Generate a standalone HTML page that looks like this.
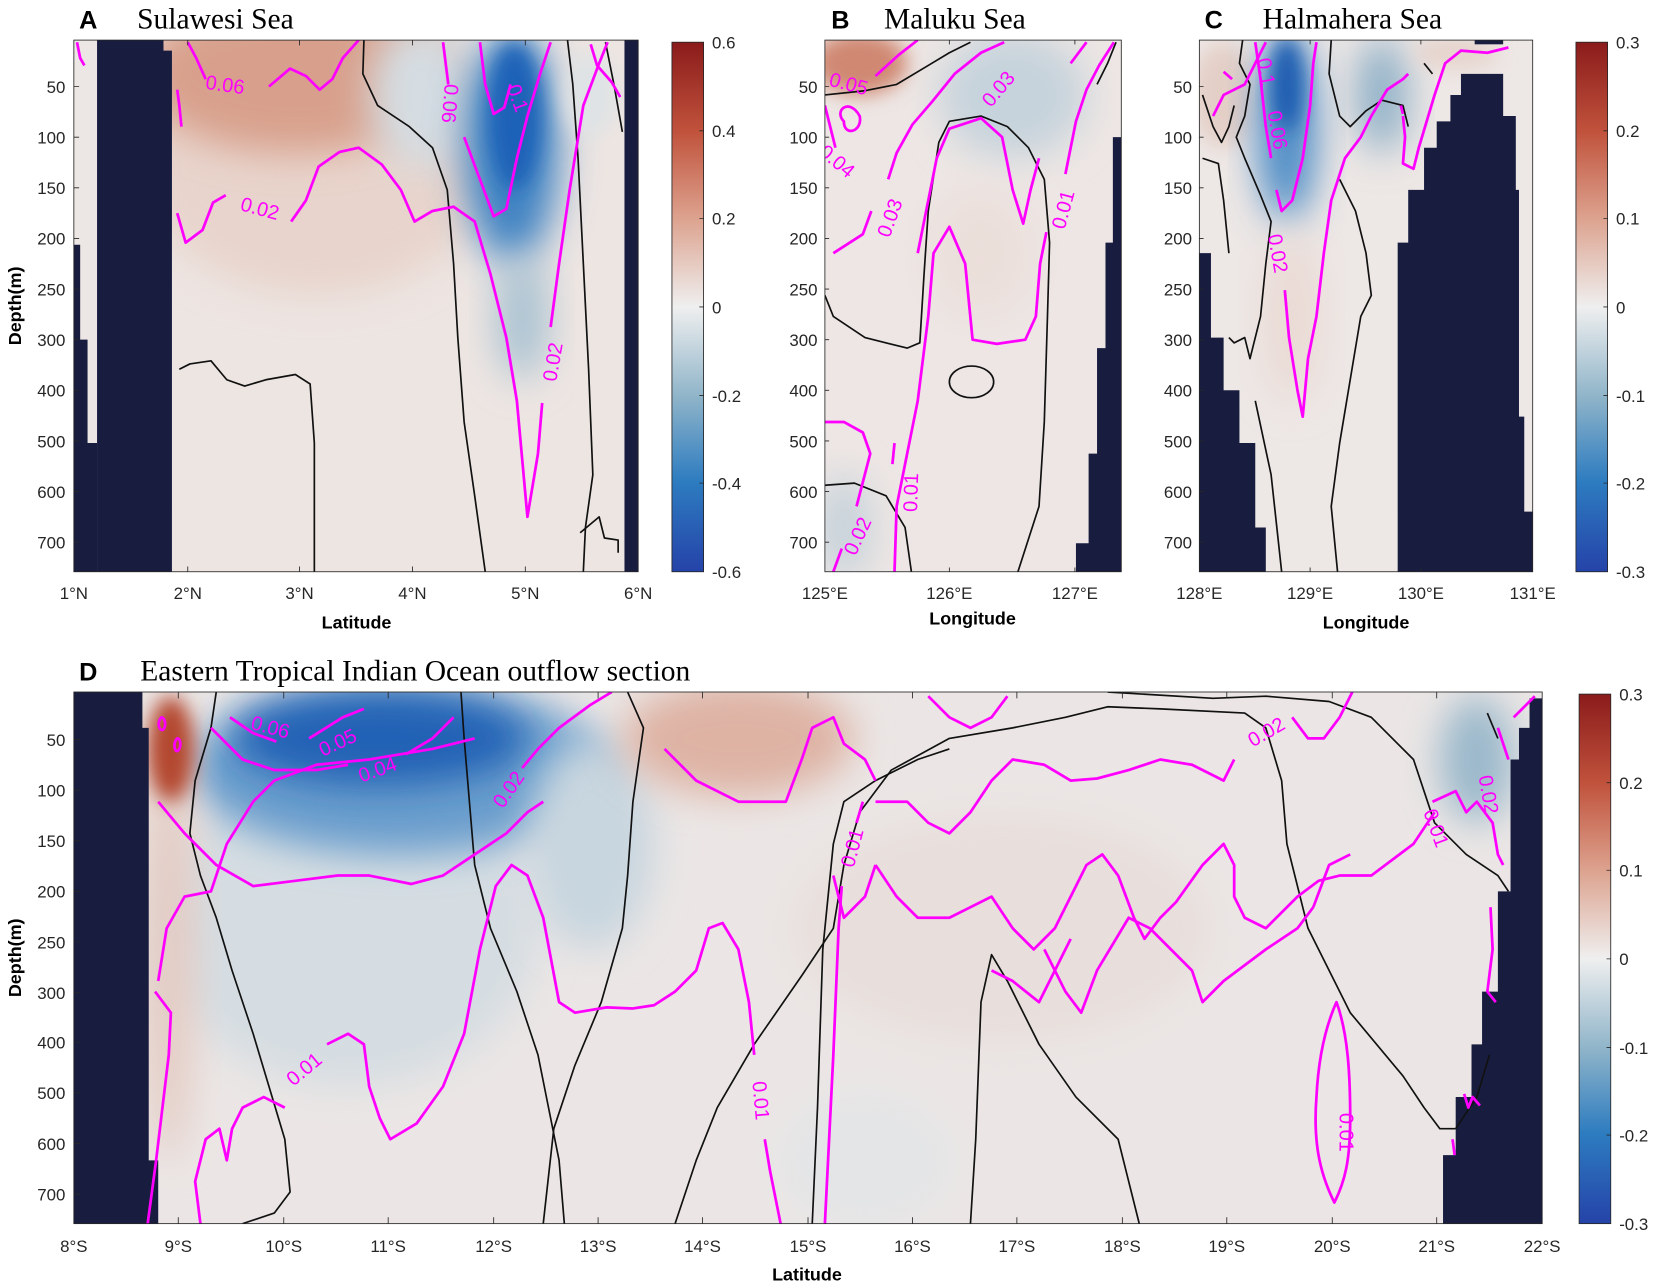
<!DOCTYPE html>
<html><head><meta charset="utf-8"><style>
html,body{margin:0;padding:0;background:#fff;}
svg{display:block;}
text{font-family:"Liberation Sans",Arial,sans-serif;fill:#262626;}
.t{font-size:16px;}
.ttl{font-family:"Liberation Serif",serif;font-size:28px;fill:#000;}
.lab{font-size:24px;font-weight:bold;fill:#000;}
.ax{font-size:17px;font-weight:bold;fill:#000;}
.m{fill:none;stroke:#ff00ff;stroke-width:2.6;stroke-linejoin:round;}
.k{fill:none;stroke:#111;stroke-width:1.6;stroke-linejoin:round;}
.ml{font-size:19px;fill:#ff00ff;}
.land{fill:#181d40;}
</style></head><body>
<svg width="1654" height="1288" viewBox="0 0 1568 1221" xmlns="http://www.w3.org/2000/svg">
<defs>
<linearGradient id="cb" x1="0" y1="0" x2="0" y2="1">
<stop offset="0" stop-color="#8a1b1b"/><stop offset="0.17" stop-color="#c1533d"/>
<stop offset="0.33" stop-color="#dca18d"/><stop offset="0.5" stop-color="#efefef"/>
<stop offset="0.67" stop-color="#8fb4c9"/><stop offset="0.83" stop-color="#2d7cc0"/>
<stop offset="1" stop-color="#2543a9"/></linearGradient>
<filter id="b1" x="-50%" y="-50%" width="200%" height="200%"><feGaussianBlur stdDeviation="18"/></filter>
<filter id="b2" x="-50%" y="-50%" width="200%" height="200%"><feGaussianBlur stdDeviation="9"/></filter>
<clipPath id="cA"><rect x="70" y="38" width="535" height="504"/></clipPath>
<clipPath id="cB"><rect x="782" y="38" width="281" height="504"/></clipPath>
<clipPath id="cC"><rect x="1137" y="38" width="316" height="504"/></clipPath>
<clipPath id="cD"><rect x="70" y="656" width="1392" height="504"/></clipPath>
</defs>

<!-- ===== Panel A ===== -->
<g clip-path="url(#cA)">
<rect x="70" y="38" width="535" height="504" fill="#ede5e2"/>
<ellipse cx="300" cy="150" rx="170" ry="130" fill="#e8d4cc" filter="url(#b1)"/>
<ellipse cx="280" cy="70" rx="150" ry="75" fill="#d8a08c" filter="url(#b1)"/>
<ellipse cx="400" cy="90" rx="50" ry="70" fill="#d5dde2" filter="url(#b1)"/>
<ellipse cx="485" cy="140" rx="45" ry="110" fill="#3f83c3" filter="url(#b1)"/>
<ellipse cx="488" cy="110" rx="25" ry="70" fill="#1f62b8" filter="url(#b2)"/>
<ellipse cx="495" cy="300" rx="25" ry="60" fill="#a9c2d2" filter="url(#b1)"/>
<ellipse cx="560" cy="90" rx="25" ry="40" fill="#dfe3e5" filter="url(#b2)"/>
<rect x="70" y="38" width="22" height="504" fill="#ece6e4"/>
<path class="land" d="M92,38H155V48H163V542H92Z"/>
<path class="land" d="M70,232H76V322H83V420H92V542H70Z"/>
<rect class="land" x="592" y="38" width="13" height="504"/>
<polyline class="k" points="345,38 344,70 358,100 388,120 410,140 424,180 430,250 434,320 440,400 450,470 460,542"/>
<polyline class="k" points="170,350 180,345 200,342 215,360 232,366 252,360 280,355 294,364 298,420 298,542"/>
<polyline class="k" points="538,38 543,80 548,150 553,250 558,350 562,450 555,500 553,542"/>
<polyline class="k" points="574,40 582,80 590,125"/>
<polyline class="k" points="550,505 568,490 573,510 586,512 586,524"/>
<polyline class="m" points="73,40 76,55 80,62"/>
<polyline class="m" points="168,85 170,100 172,120"/>
<polyline class="m" points="178,40 186,55 195,75"/>
<polyline class="m" points="255,82 275,65 290,72 303,85 315,75 325,55 340,38"/>
<text class="ml" x="195" y="87" transform="rotate(8 215 80)">0.06</text>
<polyline class="m" points="168,202 176,230 192,218 202,192 214,185"/>
<text class="ml" x="228" y="205" transform="rotate(15 250 198)">0.02</text>
<polyline class="m" points="276,210 290,190 302,158 322,144 340,140 362,156 380,180 393,210 410,200 430,196 450,210 465,260 480,320 490,380 500,490 510,430 514,382"/>
<text class="ml" x="500" y="360" transform="rotate(-80 515 345)">0.02</text>
<polyline class="m" points="522,310 530,250 540,180 553,100 568,60 576,40"/>
<polyline class="m" points="420,40 425,80"/>
<text class="ml" x="410" y="110" transform="rotate(95 430 100)">0.06</text>
<polyline class="m" points="440,130 455,170 468,205 480,198 490,150 500,110 512,70 522,40"/>
<polyline class="m" points="455,40 460,80 468,108 478,102 484,80"/>
<text class="ml" x="478" y="98" transform="rotate(70 490 92)">0.1</text>
<polyline class="m" points="560,42 566,62 580,78 588,92"/>
</g>
<rect x="70" y="38" width="535" height="504" fill="none" stroke="#262626" stroke-width="0.8"/>

<!-- ===== Panel B ===== -->
<g clip-path="url(#cB)">
<rect x="782" y="38" width="281" height="504" fill="#ede6e4"/>
<ellipse cx="815" cy="60" rx="45" ry="30" fill="#d08872" filter="url(#b2)"/>
<ellipse cx="960" cy="90" rx="70" ry="60" fill="#c6d3dc" filter="url(#b1)"/>
<ellipse cx="800" cy="500" rx="25" ry="50" fill="#c5d2da" filter="url(#b1)"/>
<ellipse cx="930" cy="240" rx="50" ry="60" fill="#ebdfda" filter="url(#b1)"/>
<path class="land" d="M1063,130H1055V230H1048V330H1040V430H1032V515H1020V542H1063Z"/>
<polyline class="k" points="782,90 820,86 850,80 880,62 900,50 920,40"/>
<polyline class="k" points="782,280 790,300 820,320 860,330 872,325 876,260 880,200 890,135 900,115 930,110 955,120 975,140 990,170 995,230 993,300 990,400 985,480 965,542"/>
<ellipse cx="921" cy="362" rx="21" ry="15" class="k"/>
<polyline class="k" points="782,460 810,458 840,470 858,500 864,542"/>
<polyline class="k" points="1040,80 1050,60 1058,40"/>
<polyline class="m" points="830,72 852,52 870,38"/>
<text class="ml" x="786" y="86" transform="rotate(15 805 80)">0.05</text>
<path class="m" d="M800,115 C790,105 805,92 815,110 C818,125 800,130 800,115Z"/>
<text class="ml" x="776" y="160" transform="rotate(40 795 152)">0.04</text>
<polyline class="m" points="782,100 792,140"/>
<polyline class="m" points="790,240 818,222 826,200"/>
<text class="ml" x="818" y="220" transform="rotate(-70 835 205)">0.03</text>
<polyline class="m" points="842,170 850,145 865,118 884,96 905,70 930,50 952,40"/>
<text class="ml" x="928" y="92" transform="rotate(-50 945 85)">0.03</text>
<polyline class="m" points="870,240 878,200 888,150 900,122 930,112 950,130 960,180 970,212 977,180 985,150"/>
<text class="ml" x="980" y="210" transform="rotate(-75 1000 195)">0.01</text>
<polyline class="m" points="1010,165 1020,115 1030,85 1042,62 1056,40"/>
<polyline class="m" points="1015,60 1030,40"/>
<polyline class="m" points="848,542 850,480 860,430 870,380 880,300 885,240 900,215 915,250 922,322 945,326 972,322 982,300 986,250 992,220"/>
<text class="ml" x="835" y="480" transform="rotate(-88 855 465)">0.01</text>
<polyline class="m" points="846,440 848,420"/>
<polyline class="m" points="790,542 798,520"/>
<text class="ml" x="787" y="520" transform="rotate(-65 805 505)">0.02</text>
<polyline class="m" points="812,480 825,430 818,410 800,400 782,400"/>
</g>
<rect x="782" y="38" width="281" height="504" fill="none" stroke="#262626" stroke-width="0.8"/>

<!-- ===== Panel C ===== -->
<g clip-path="url(#cC)">
<rect x="1137" y="38" width="316" height="504" fill="#ede7e5"/>
<ellipse cx="1160" cy="90" rx="30" ry="50" fill="#e4cfc7" filter="url(#b2)"/>
<ellipse cx="1220" cy="120" rx="28" ry="90" fill="#4a8ac6" filter="url(#b1)"/>
<ellipse cx="1220" cy="80" rx="15" ry="45" fill="#1f5bb0" filter="url(#b2)"/>
<ellipse cx="1310" cy="90" rx="25" ry="55" fill="#8fb0c8" filter="url(#b1)"/>
<ellipse cx="1225" cy="300" rx="25" ry="80" fill="#ead9d3" filter="url(#b1)"/>
<ellipse cx="1380" cy="50" rx="40" ry="15" fill="#e6d3cc" filter="url(#b2)"/>
<path class="land" d="M1137,240H1148V320H1160V370H1175V420H1190V500H1200V542H1137Z"/>
<path class="land" d="M1325,542V230H1335V180H1350V140H1362V115H1375V90H1385V70H1425V110H1437V180H1440V395H1445V485H1453V542Z"/>
<path class="land" d="M1345,322H1353V348H1345Z"/>
<rect class="land" x="1398" y="38" width="27" height="4"/>
<polyline class="k" points="1140,90 1150,120 1158,135 1165,120 1170,100"/>
<polyline class="k" points="1140,150 1155,155 1160,190 1165,240"/>
<polyline class="k" points="1178,38 1175,60 1185,80 1180,110 1172,130 1180,150 1195,185 1205,210 1200,250 1195,300 1185,340 1180,320 1170,325 1165,320"/>
<polyline class="k" points="1262,38 1260,70 1270,110 1280,120 1295,105 1310,95 1330,100 1335,120"/>
<polyline class="k" points="1270,170 1285,200 1295,240 1300,280 1290,300 1280,360 1270,420 1262,480 1268,542"/>
<polyline class="k" points="1190,380 1205,450 1215,542"/>
<polyline class="k" points="1350,60 1358,70"/>
<polyline class="m" points="1190,40 1195,75 1200,120 1205,150"/>
<text class="ml" x="1180" y="80" transform="rotate(80 1200 75)">0.1</text>
<text class="ml" x="1190" y="130" transform="rotate(80 1210 125)">0.06</text>
<polyline class="m" points="1210,180 1215,200 1225,190 1235,150 1242,100 1245,60 1248,40"/>
<polyline class="m" points="1160,68 1168,75"/>
<polyline class="m" points="1150,110 1160,90 1180,80 1200,40"/>
<text class="ml" x="1192" y="245" transform="rotate(80 1210 240)">0.02</text>
<polyline class="m" points="1218,275 1222,320 1230,370 1235,395 1240,340 1248,300 1255,240 1262,190 1275,150 1290,130 1300,110 1315,85 1330,75 1335,70"/>
<polyline class="m" points="1330,110 1332,130 1330,155 1340,160 1345,140 1360,90 1370,60 1385,48 1410,50 1430,45"/>
<polyline class="m" points="1328,100 1330,108"/>
</g>
<rect x="1137" y="38" width="316" height="504" fill="none" stroke="#262626" stroke-width="0.8"/>

<!-- ===== Panel D ===== -->
<g clip-path="url(#cD)">
<rect x="70" y="656" width="1392" height="504" fill="#ebe6e5"/>
<ellipse cx="330" cy="880" rx="180" ry="150" fill="#d5dde2" filter="url(#b1)"/>
<ellipse cx="380" cy="730" rx="200" ry="80" fill="#6a9ecd" filter="url(#b1)"/>
<ellipse cx="360" cy="700" rx="140" ry="45" fill="#2262b5" filter="url(#b1)"/>
<ellipse cx="560" cy="800" rx="60" ry="100" fill="#c8d6df" filter="url(#b1)"/>
<ellipse cx="700" cy="700" rx="110" ry="55" fill="#deb3a4" filter="url(#b1)"/>
<ellipse cx="160" cy="900" rx="25" ry="200" fill="#e4cbc3" filter="url(#b1)"/>
<ellipse cx="162" cy="710" rx="22" ry="50" fill="#b4472d" filter="url(#b2)"/>
<ellipse cx="950" cy="880" rx="200" ry="110" fill="#e8dfdc" filter="url(#b1)"/>
<ellipse cx="1400" cy="720" rx="35" ry="60" fill="#9ab8cb" filter="url(#b1)"/>
<ellipse cx="820" cy="1100" rx="80" ry="60" fill="#e3e5e7" filter="url(#b1)"/>
<path class="land" d="M70,656H135V690H141V1100H150V1160H70Z"/>
<path class="land" d="M1462,656V1160H1368V1095H1380V1040H1395V990H1405V940H1420V845H1432V720H1440V690H1450V662H1462Z"/>
<polyline class="k" points="205,656 200,690 185,740 180,790 190,830 205,870 220,920 240,980 255,1030 270,1080 275,1130 260,1150 230,1160"/>
<polyline class="k" points="437,656 440,700 445,760 450,820 465,880 490,940 510,1000 520,1050 530,1100 535,1160"/>
<polyline class="k" points="595,656 610,690 600,760 595,830 590,880 570,950 545,1010 525,1070 515,1160"/>
<polyline class="k" points="640,1160 660,1100 680,1050 715,990 760,925 790,880 800,820 815,770 845,730 900,700 960,690 1010,680 1050,670 1100,672 1180,676 1200,690 1215,740 1220,800 1240,880 1280,960 1330,1020 1350,1050 1365,1070 1380,1070"/>
<polyline class="k" points="1380,1070 1400,1040 1412,1000"/>
<polyline class="k" points="920,1160 925,1080 930,950 940,905 955,930 985,990 1020,1040 1060,1080 1080,1160"/>
<polyline class="k" points="770,1160 775,1050 780,900 785,850 790,800 800,760 830,740 870,720 900,710"/>
<polyline class="k" points="1050,656 1150,662 1200,660 1260,665 1300,680 1340,720 1360,780 1390,810 1420,830 1430,845"/>
<polyline class="k" points="1410,676 1420,700"/>
<path class="m" d="M153,680 C149,684 150,692 154,692 C158,690 157,680 153,680Z"/>
<path class="m" d="M168,700 C164,704 165,712 168,712 C172,710 172,700 168,700Z"/>
<polyline class="m" points="218,680 240,695 262,703"/>
<text class="ml" x="238" y="698" transform="rotate(15 265 690)">0.06</text>
<polyline class="m" points="293,700 325,680 345,672"/>
<text class="ml" x="300" y="710" transform="rotate(-25 320 700)">0.05</text>
<polyline class="m" points="200,690 230,720 260,730 300,730 330,725"/>
<text class="ml" x="338" y="735" transform="rotate(-20 360 725)">0.04</text>
<polyline class="m" points="385,715 410,700 430,680"/>
<polyline class="m" points="140,1160 148,1100 160,1000 162,960 147,940"/>
<polyline class="m" points="150,930 158,880 175,850 200,845 215,800 240,760 260,740 300,725 350,720 410,710 450,700"/>
<polyline class="m" points="190,1160 185,1120 195,1080 208,1070 215,1100 220,1070 230,1050 250,1040 270,1050"/>
<text class="ml" x="268" y="1018" transform="rotate(-40 290 1010)">0.01</text>
<polyline class="m" points="310,990 330,980 345,990 350,1030 360,1060 370,1080 395,1065 420,1030 440,980 455,900 470,840 485,820 500,830 515,870 530,950 545,960 575,955 600,956 620,953 640,940 660,920 672,880 685,875 700,900 710,950 715,1000"/>
<text class="ml" x="700" y="1050" transform="rotate(85 720 1045)">0.01</text>
<polyline class="m" points="725,1080 730,1110 740,1160"/>
<polyline class="m" points="150,760 175,790 205,820 240,840 280,835 320,830 350,830 390,838 420,830 450,810 480,790 500,770 515,760"/>
<text class="ml" x="460" y="755" transform="rotate(-55 480 745)">0.02</text>
<polyline class="m" points="495,728 510,710 530,690 560,668 580,656"/>
<polyline class="m" points="630,710 660,740 700,760 745,760 760,720 770,690 790,680 800,705 820,720 830,740"/>
<text class="ml" x="780" y="815" transform="rotate(-75 800 800)">0.01</text>
<polyline class="m" points="812,780 818,760"/>
<polyline class="m" points="782,1160 790,1000 795,880 798,840"/>
<polyline class="m" points="830,760 860,760 880,780 900,790 920,770 940,740 960,720 990,725 1015,740 1040,738 1070,730 1100,720 1130,725 1160,740 1170,720"/>
<text class="ml" x="1180" y="700" transform="rotate(-30 1200 690)">0.02</text>
<polyline class="m" points="1225,680 1240,700 1255,700 1270,680 1280,660 1282,656"/>
<polyline class="m" points="830,820 850,850 870,870 900,870 920,860 940,850 960,880 980,900 1000,880 1015,850 1030,820 1045,810 1060,830 1075,870 1085,890 1100,870 1115,855 1140,820 1160,800 1170,820 1170,850 1180,870 1200,880 1230,850 1250,835 1270,830 1300,830 1340,800 1360,770"/>
<polyline class="m" points="830,820 820,850 800,870 790,830"/>
<polyline class="m" points="880,660 900,680 920,690 940,680 955,660"/>
<polyline class="m" points="940,920 960,930 985,950 1000,920 1015,890"/>
<polyline class="m" points="990,900 1010,940 1025,960 1040,920 1070,870 1090,880 1110,900 1130,920 1140,950 1160,930 1200,900 1230,880 1245,860"/>
<polyline class="m" points="1245,860 1260,820 1280,810"/>
<path class="m" d="M1267,950 C1258,970 1250,1000 1248,1040 C1245,1080 1250,1110 1265,1140 C1275,1120 1280,1100 1280,1060 C1280,1020 1278,980 1267,950Z"/>
<text class="ml" x="1255" y="1080" transform="rotate(90 1275 1075)">0.01</text>
<polyline class="m" points="1358,760 1380,750 1390,770 1400,760 1415,780 1420,810 1425,820"/>
<text class="ml" x="1342" y="790" transform="rotate(70 1360 785)">0.01</text>
<text class="ml" x="1390" y="760" transform="rotate(80 1410 755)">0.02</text>
<polyline class="m" points="1420,690 1430,720"/>
<polyline class="m" points="1435,680 1450,665 1455,660"/>
<polyline class="m" points="1413,860 1415,900 1410,940 1418,950"/>
<polyline class="m" points="1388,1037 1392,1050 1396,1040 1403,1048"/>
<polyline class="m" points="1377,1080 1379,1095"/>
</g>
<rect x="70" y="656" width="1392" height="504" fill="none" stroke="#262626" stroke-width="0.8"/>

<!-- ticks and labels -->
<g stroke="#262626" stroke-width="0.8">
<path d="M70,82h5M70,130h5M70,178h5M70,226h5M70,274h5M70,322h5M70,370h5M70,418h5M70,466h5M70,514h5"/>
<path d="M782,82h4M782,130h4M782,178h4M782,226h4M782,274h4M782,322h4M782,370h4M782,418h4M782,466h4M782,514h4"/>
<path d="M1137,82h4M1137,130h4M1137,178h4M1137,226h4M1137,274h4M1137,322h4M1137,370h4M1137,418h4M1137,466h4M1137,514h4"/>
<path d="M70,701h6M70,749h6M70,797h6M70,845h6M70,893h6M70,941h6M70,988h6M70,1036h6M70,1084h6M70,1132h6"/>
<path d="M178,542v-5M284,542v-5M391,542v-5M498,542v-5M178,38v5M284,38v5M391,38v5M498,38v5"/>
<path d="M900,542v-4M1019,542v-4M900,38v4M1019,38v4"/>
<path d="M1242,542v-4M1347,542v-4M1242,38v4M1347,38v4"/>
</g>
<g class="t" text-anchor="end">
<text x="62" y="88">50</text><text x="62" y="136">100</text><text x="62" y="184">150</text><text x="62" y="232">200</text><text x="62" y="280">250</text><text x="62" y="328">300</text><text x="62" y="376">400</text><text x="62" y="424">500</text><text x="62" y="472">600</text><text x="62" y="520">700</text>
<text x="775" y="88">50</text><text x="775" y="136">100</text><text x="775" y="184">150</text><text x="775" y="232">200</text><text x="775" y="280">250</text><text x="775" y="328">300</text><text x="775" y="376">400</text><text x="775" y="424">500</text><text x="775" y="472">600</text><text x="775" y="520">700</text>
<text x="1130" y="88">50</text><text x="1130" y="136">100</text><text x="1130" y="184">150</text><text x="1130" y="232">200</text><text x="1130" y="280">250</text><text x="1130" y="328">300</text><text x="1130" y="376">400</text><text x="1130" y="424">500</text><text x="1130" y="472">600</text><text x="1130" y="520">700</text>
<text x="62" y="707">50</text><text x="62" y="755">100</text><text x="62" y="803">150</text><text x="62" y="851">200</text><text x="62" y="899">250</text><text x="62" y="947">300</text><text x="62" y="994">400</text><text x="62" y="1042">500</text><text x="62" y="1090">600</text><text x="62" y="1138">700</text>
</g>
<g class="t" text-anchor="middle">
<text x="70" y="568">1°N</text><text x="178" y="568">2°N</text><text x="284" y="568">3°N</text><text x="391" y="568">4°N</text><text x="498" y="568">5°N</text><text x="605" y="568">6°N</text>
<text x="782" y="568">125°E</text><text x="900" y="568">126°E</text><text x="1019" y="568">127°E</text>
<text x="1137" y="568">128°E</text><text x="1242" y="568">129°E</text><text x="1347" y="568">130°E</text><text x="1453" y="568">131°E</text>
<text x="70" y="1187">8°S</text><text x="169" y="1187">9°S</text><text x="269" y="1187">10°S</text><text x="368" y="1187">11°S</text><text x="468" y="1187">12°S</text><text x="567" y="1187">13°S</text><text x="666" y="1187">14°S</text><text x="766" y="1187">15°S</text><text x="865" y="1187">16°S</text><text x="964" y="1187">17°S</text><text x="1064" y="1187">18°S</text><text x="1163" y="1187">19°S</text><text x="1263" y="1187">20°S</text><text x="1362" y="1187">21°S</text><text x="1462" y="1187">22°S</text>
</g>
<g stroke="#262626" stroke-width="0.8">
<path d="M169,1160v-6M269,1160v-6M368,1160v-6M468,1160v-6M567,1160v-6M666,1160v-6M766,1160v-6M865,1160v-6M964,1160v-6M1064,1160v-6M1163,1160v-6M1263,1160v-6M1362,1160v-6"/>
<path d="M169,656v6M269,656v6M368,656v6M468,656v6M567,656v6M666,656v6M766,656v6M865,656v6M964,656v6M1064,656v6M1163,656v6M1263,656v6M1362,656v6"/>
</g>
<text class="ax" x="338" y="596" text-anchor="middle">Latitude</text>
<text class="ax" x="922" y="592" text-anchor="middle">Longitude</text>
<text class="ax" x="1295" y="596" text-anchor="middle">Longitude</text>
<text class="ax" x="765" y="1214" text-anchor="middle">Latitude</text>
<text class="ax" x="20" y="290" text-anchor="middle" transform="rotate(-90 20 290)">Depth(m)</text>
<text class="ax" x="20" y="908" text-anchor="middle" transform="rotate(-90 20 908)">Depth(m)</text>

<text class="lab" x="75" y="27">A</text><text class="ttl" x="130" y="27">Sulawesi Sea</text>
<text class="lab" x="788" y="27">B</text><text class="ttl" x="838" y="27">Maluku Sea</text>
<text class="lab" x="1142" y="27">C</text><text class="ttl" x="1197" y="27">Halmahera Sea</text>
<text class="lab" x="75" y="645">D</text><text class="ttl" x="133" y="645">Eastern Tropical Indian Ocean outflow section</text>

<!-- colorbars -->
<rect x="637" y="40" width="30" height="502" fill="url(#cb)" stroke="#262626" stroke-width="0.8"/>
<rect x="1494" y="40" width="30" height="502" fill="url(#cb)" stroke="#262626" stroke-width="0.8"/>
<rect x="1497" y="658" width="30" height="502" fill="url(#cb)" stroke="#262626" stroke-width="0.8"/>
<g stroke="#262626" stroke-width="0.8">
<path d="M667,124h-4M667,207h-4M667,291h-4M667,375h-4M667,458h-4"/>
<path d="M1524,124h-4M1524,207h-4M1524,291h-4M1524,375h-4M1524,458h-4"/>
<path d="M1527,742h-4M1527,825h-4M1527,909h-4M1527,993h-4M1527,1076h-4"/>
</g>
<g class="t">
<text x="675" y="46">0.6</text><text x="675" y="130">0.4</text><text x="675" y="213">0.2</text><text x="675" y="297">0</text><text x="675" y="381">-0.2</text><text x="675" y="464">-0.4</text><text x="675" y="548">-0.6</text>
<text x="1532" y="46">0.3</text><text x="1532" y="130">0.2</text><text x="1532" y="213">0.1</text><text x="1532" y="297">0</text><text x="1532" y="381">-0.1</text><text x="1532" y="464">-0.2</text><text x="1532" y="548">-0.3</text>
<text x="1535" y="664">0.3</text><text x="1535" y="748">0.2</text><text x="1535" y="831">0.1</text><text x="1535" y="915">0</text><text x="1535" y="999">-0.1</text><text x="1535" y="1082">-0.2</text><text x="1535" y="1166">-0.3</text>
</g>
</svg>
</body></html>
